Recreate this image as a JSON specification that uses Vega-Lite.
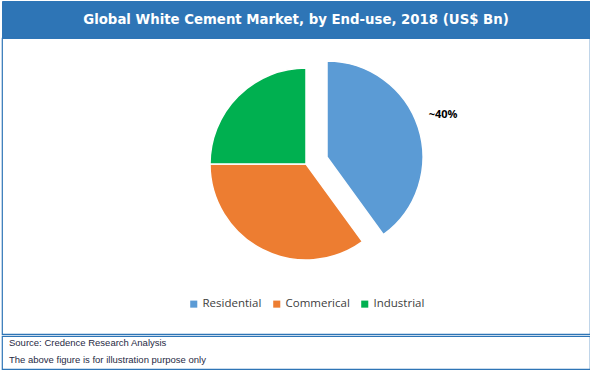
{
  "$schema": "https://vega.github.io/schema/vega-lite/v6.json",
  "padding": {"left": 1, "top": 0, "right": 0, "bottom": 1},
  "background": "white",
  "bounds": "flush",
  "config": {"view": {"stroke": null}},
  "spacing": 0,
  "vconcat": [
    {
      "width": 588,
      "height": 37,
      "view": {"fill": "#2E75B6", "stroke": "#2E75B6"},
      "data": {"values": [{"title": "Global White Cement Market, by End-use, 2018 (US$ Bn)"}]},
      "mark": {"type": "text", "font": "DejaVu Sans", "fontWeight": "bold", "fontSize": 13.3, "color": "white", "baseline": "middle", "align": "center"},
      "encoding": {"text": {"field": "title"}}
    },
    {
      "spacing": 2,
      "bounds": "flush",
      "vconcat": [
        {
          "width": 588,
          "height": 296,
          "view": {"stroke": "#2E75B6", "strokeWidth": 1.2},
          "data": {"values": [
            {"segment": "Residential", "share": 40, "order": 1, "label": "~40%"},
            {"segment": "Commerical", "share": 35, "order": 2, "label": ""},
            {"segment": "Industrial", "share": 25, "order": 3, "label": ""}
          ]},
          "encoding": {
            "theta": {"field": "share", "type": "quantitative", "stack": true},
            "order": {"field": "order", "type": "quantitative"}
          },
          "layer": [
            {
              "mark": {"type": "arc", "radius": 96, "xOffset": 10, "yOffset": -22, "stroke": "white", "strokeWidth": 1.5},
              "encoding": {
                "color": {
                  "field": "segment", "type": "nominal",
                  "scale": {"domain": ["Residential", "Commerical", "Industrial"], "range": ["#5B9BD5", "#ED7D31", "#00B050"]},
                  "legend": {
                    "orient": "none", "legendX": 186, "legendY": 297, "direction": "horizontal", "title": null,
                    "symbolType": "square", "symbolSize": 50, "symbolStrokeWidth": 0,
                    "labelFont": "Open Sans", "labelFontSize": 11.5, "labelColor": "#404040",
                    "labelOffset": 3, "columnPadding": 9
                  }
                },
                "opacity": {"condition": {"test": "datum.segment === 'Residential'", "value": 0}, "value": 1}
              }
            },
            {
              "mark": {"type": "arc", "radius": 96, "xOffset": 31, "yOffset": -29, "stroke": "white", "strokeWidth": 1.5},
              "encoding": {
                "color": {"field": "segment", "type": "nominal"},
                "opacity": {"condition": {"test": "datum.segment === 'Residential'", "value": 1}, "value": 0}
              }
            },
            {
              "mark": {"type": "text", "radius": 122, "xOffset": 31, "yOffset": -29, "dy": -4, "font": "Open Sans", "fontWeight": "bold", "fontSize": 11, "color": "#000000"},
              "encoding": {
                "detail": {"field": "segment", "type": "nominal"},
                "text": {"field": "label"}
              }
            }
          ]
        },
        {
          "width": 588,
          "height": 33,
          "view": {"stroke": "#2E75B6", "strokeWidth": 1.2},
          "data": {"values": [
            {"line": 1, "text": "Source: Credence Research Analysis"},
            {"line": 2, "text": "The above figure is for illustration purpose only"}
          ]},
          "mark": {"type": "text", "align": "left", "baseline": "middle", "font": "Liberation Sans", "fontSize": 9.5, "color": "#1F2A44"},
          "encoding": {
            "x": {"value": 7},
            "y": {"field": "line", "type": "ordinal", "axis": null, "scale": {"type": "point", "padding": 0.5, "align": 0.45}},
            "text": {"field": "text"}
          }
        }
      ]
    }
  ]
}
